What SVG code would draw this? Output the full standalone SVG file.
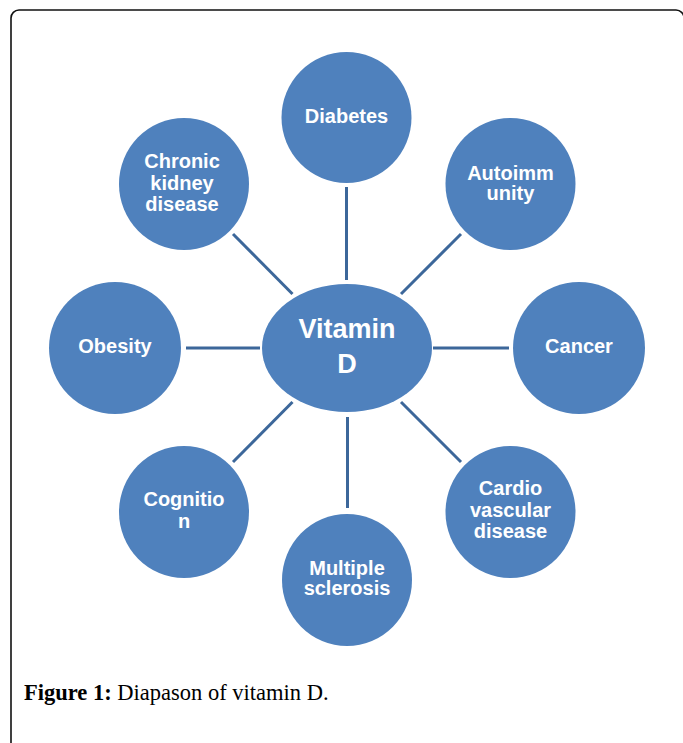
<svg xmlns="http://www.w3.org/2000/svg" width="683" height="743" viewBox="0 0 683 743">
  <style>
    .node { fill: #4F81BD; }
    .lbl { fill: #FFFFFF; font-family: "Liberation Sans", Arial, sans-serif; font-weight: bold; font-size: 20px; text-anchor: middle; }
    .big { font-size: 27px; }
    .conn { stroke: #3C679A; stroke-width: 3; fill: none; }
    .cap { font-family: "Liberation Serif", "Times New Roman", serif; font-size: 22.5px; fill: #000; }
  </style>
  <rect x="0" y="0" width="683" height="743" fill="#FFFFFF"/>
  <rect x="11" y="10" width="673" height="760" rx="8" ry="8" fill="none" stroke="#111" stroke-width="1.6"/>

  <g id="connectors">
    <line class="conn" x1="346.5" y1="187" x2="346.5" y2="280"/>
    <line class="conn" x1="233" y1="234" x2="292.5" y2="294"/>
    <line class="conn" x1="461" y1="234" x2="401" y2="294"/>
    <line class="conn" x1="186" y1="348" x2="260" y2="348"/>
    <line class="conn" x1="433" y1="348" x2="509" y2="348"/>
    <line class="conn" x1="292.5" y1="402" x2="233" y2="462"/>
    <line class="conn" x1="401" y1="402" x2="461" y2="462"/>
    <line class="conn" x1="347.5" y1="417" x2="347.5" y2="508"/>
  </g>

  <g id="vitamin-d">
    <ellipse class="node" cx="347" cy="348" rx="85" ry="64"/>
    <text class="lbl big" x="347" y="338">Vitamin</text>
    <text class="lbl big" x="347" y="373">D</text>
  </g>
  <g id="diabetes">
    <ellipse class="node" cx="346.5" cy="117.5" rx="65" ry="65.5"/>
    <text class="lbl" x="346.5" y="123">Diabetes</text>
  </g>
  <g id="autoimmunity">
    <ellipse class="node" cx="510.5" cy="184" rx="65" ry="66"/>
    <text class="lbl" x="510.5" y="180">Autoimm</text>
    <text class="lbl" x="510.5" y="200">unity</text>
  </g>
  <g id="cancer">
    <ellipse class="node" cx="579" cy="348" rx="66" ry="66"/>
    <text class="lbl" x="579" y="353">Cancer</text>
  </g>
  <g id="cardiovascular">
    <ellipse class="node" cx="510.5" cy="512" rx="65" ry="66"/>
    <text class="lbl" x="510.5" y="495">Cardio</text>
    <text class="lbl" x="510.5" y="516.5">vascular</text>
    <text class="lbl" x="510.5" y="538">disease</text>
  </g>
  <g id="multiple-sclerosis">
    <ellipse class="node" cx="347" cy="580" rx="65" ry="66"/>
    <text class="lbl" x="347" y="575">Multiple</text>
    <text class="lbl" x="347" y="595">sclerosis</text>
  </g>
  <g id="cognition">
    <ellipse class="node" cx="184" cy="512" rx="65" ry="66"/>
    <text class="lbl" x="184" y="506">Cognitio</text>
    <text class="lbl" x="184" y="528">n</text>
  </g>
  <g id="obesity">
    <ellipse class="node" cx="115" cy="348" rx="66" ry="66"/>
    <text class="lbl" x="115" y="353">Obesity</text>
  </g>
  <g id="chronic-kidney-disease">
    <ellipse class="node" cx="184" cy="184" rx="65" ry="66"/>
    <text class="lbl" x="182" y="168">Chronic</text>
    <text class="lbl" x="182" y="189.5">kidney</text>
    <text class="lbl" x="182" y="211">disease</text>
  </g>

  <text class="cap" x="24" y="700"><tspan font-weight="bold">Figure 1:</tspan> Diapason of vitamin D.</text>
</svg>
